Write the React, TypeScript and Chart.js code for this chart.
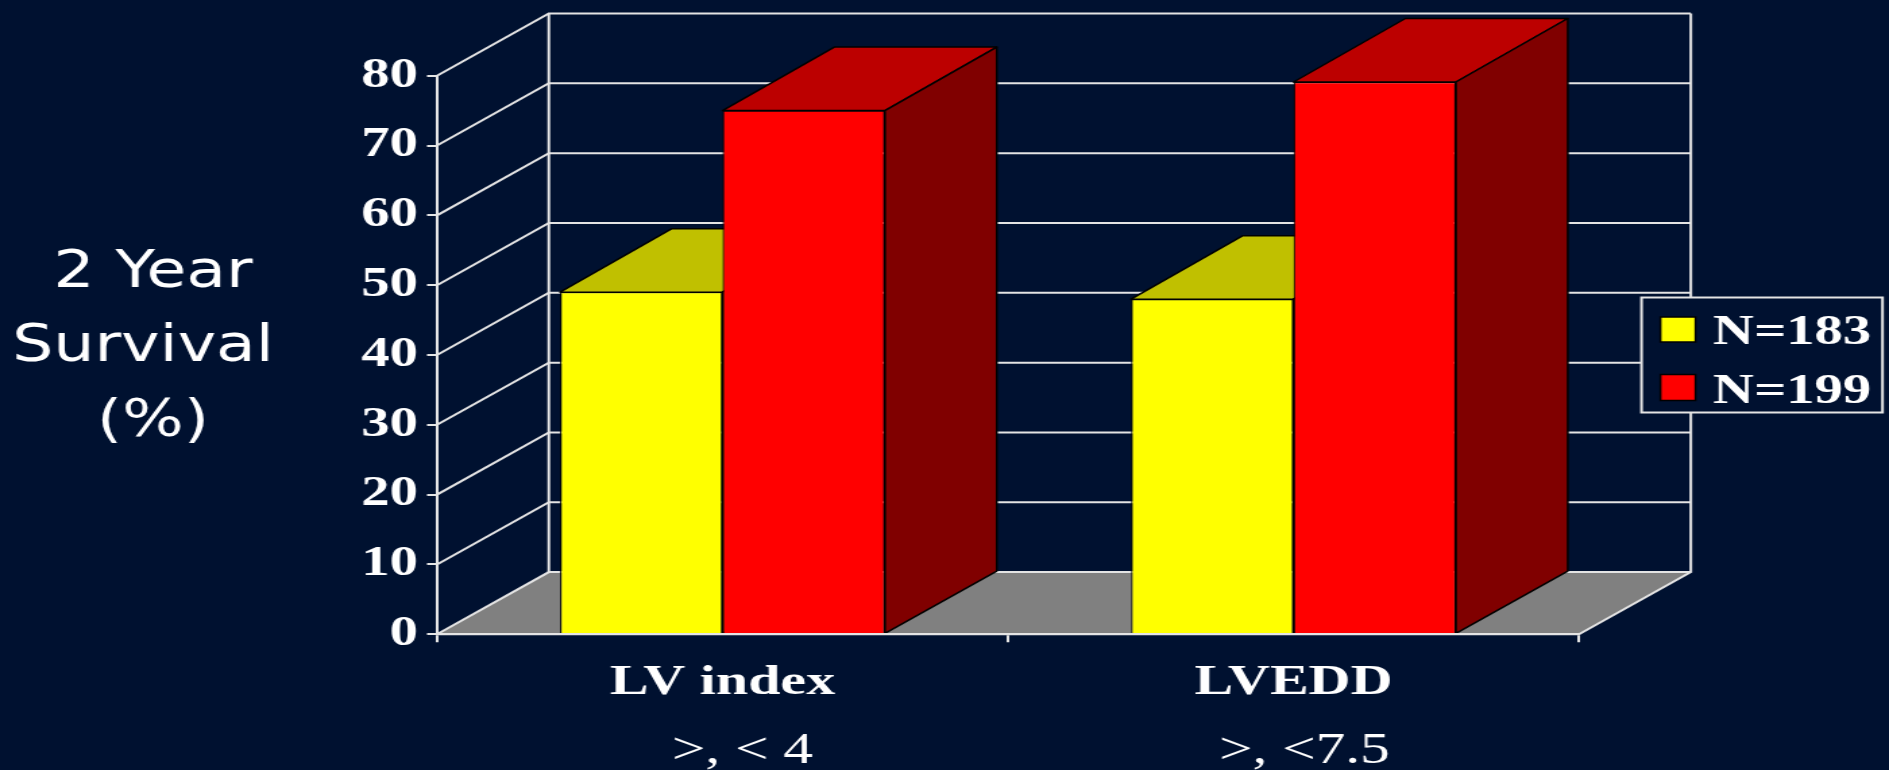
import React, { useEffect, useRef } from "react";
import { Chart, registerables } from "chart.js";

Chart.register(...registerables);

// ---- data ----
const categories = ["LV index", "LVEDD"];
const subLabels = [">, < 4", ">, <7.5"];
const seriesLabels = ["N=183", "N=199"];
const series183 = [49, 48];
const series199 = [75, 79.1];
const titleLines = ["2 Year", "Survival", "(%)"];

// ---- canvas is laid out narrower and widened with CSS, as the reference's text is stretched ----
const W = 1400;
const H = 770;
const SX = 1889 / W;
const px = (v: number) => v / SX;

const BG = "#001130";
const LINE = "#e4e4e4";
const DX = px(111.8);
const DY = 62.2;
const BAR_TOP_DY = 63.5;
const SERIF = "'Liberation Serif', serif";
const SUB_OFFSETS = [px(20), px(11)];
const TITLE_X = [px(153), px(143), px(153)];

const frontColors = ["#ffff00", "#ff0000"];
const topColors = ["#c0c000", "#bc0000"];
const sideColors = ["#808000", "#800000"];

const threeD = {
  id: "threeD",
  beforeDatasetsDraw(chart: any) {
    const { ctx, scales } = chart;
    const x = scales.x;
    const y = scales.y;
    const l = x.left;
    const r = x.right;
    const y0 = y.getPixelForValue(0);
    ctx.save();

    // floor
    ctx.fillStyle = "#808080";
    ctx.beginPath();
    ctx.moveTo(l, y0);
    ctx.lineTo(r, y0);
    ctx.lineTo(r + DX, y0 - DY);
    ctx.lineTo(l + DX, y0 - DY);
    ctx.closePath();
    ctx.fill();

    // walls
    ctx.strokeStyle = LINE;
    ctx.lineWidth = 2;
    for (const t of y.ticks) {
      const p = y.getPixelForValue(t.value);
      ctx.beginPath();
      ctx.moveTo(l, p);
      ctx.lineTo(l + DX, p - DY);
      ctx.lineTo(r + DX, p - DY);
      ctx.stroke();
    }
    const yTop = y.getPixelForValue(80);
    ctx.beginPath();
    ctx.moveTo(l + DX, yTop - DY);
    ctx.lineTo(l + DX, y0 - DY);
    ctx.moveTo(r + DX, yTop - DY);
    ctx.lineTo(r + DX, y0 - DY);
    ctx.lineTo(r, y0);
    ctx.stroke();

    // bar tops and sides; the fronts are the library's own bars
    ctx.strokeStyle = "#000000";
    ctx.lineWidth = 1.5;
    ctx.lineJoin = "round";
    chart.data.datasets.forEach((_: any, di: number) => {
      chart.getDatasetMeta(di).data.forEach((bar: any) => {
        const { x: cx, y: top, base, width } = bar.getProps(["x", "y", "base", "width"]);
        const a = cx - width / 2;
        const b = cx + width / 2;
        ctx.fillStyle = topColors[di];
        ctx.beginPath();
        ctx.moveTo(a, top);
        ctx.lineTo(a + DX, top - BAR_TOP_DY);
        ctx.lineTo(b + DX, top - BAR_TOP_DY);
        ctx.lineTo(b, top);
        ctx.closePath();
        ctx.fill();
        ctx.stroke();
        ctx.fillStyle = sideColors[di];
        ctx.beginPath();
        ctx.moveTo(b, top);
        ctx.lineTo(b + DX, top - BAR_TOP_DY);
        ctx.lineTo(b + DX, base - DY);
        ctx.lineTo(b, base);
        ctx.closePath();
        ctx.fill();
        ctx.stroke();
      });
    });
    ctx.restore();
  },
  afterDraw(chart: any) {
    const { ctx, scales } = chart;
    ctx.save();

    // second line of the category labels
    ctx.fillStyle = "#ffffff";
    ctx.font = `44px ${SERIF}`;
    ctx.textAlign = "center";
    ctx.textBaseline = "alphabetic";
    subLabels.forEach((s, i) => {
      ctx.fillText(s, scales.x.getPixelForTick(i) + SUB_OFFSETS[i], 763);
    });

    // axis title
    ctx.font = "52px 'DejaVu Sans', sans-serif";
    const baselines = [286.7, 360.7, 436];
    titleLines.forEach((s, i) => {
      ctx.save();
      ctx.translate(TITLE_X[i], baselines[i]);
      ctx.scale(0.925, 1);
      ctx.fillText(s, 0, 0);
      ctx.restore();
    });

    // legend
    const bx = px(1641.5);
    const bw = px(1882.5) - bx;
    ctx.fillStyle = BG;
    ctx.fillRect(bx, 297.5, bw, 115);
    ctx.strokeStyle = LINE;
    ctx.lineWidth = 2;
    ctx.strokeRect(bx, 297.5, bw, 115);
    const swatchTop = [317, 374.5];
    const swatchH = [25, 26];
    const textBase = [344, 403];
    chart.data.datasets.forEach((d: any, i: number) => {
      ctx.fillStyle = d.backgroundColor;
      ctx.strokeStyle = "#000000";
      ctx.lineWidth = 1.5;
      ctx.fillRect(px(1660.5), swatchTop[i], px(35), swatchH[i]);
      ctx.strokeRect(px(1660.5), swatchTop[i], px(35), swatchH[i]);
      ctx.fillStyle = "#ffffff";
      ctx.font = `bold 42px ${SERIF}`;
      ctx.textAlign = "left";
      ctx.fillText(d.label, px(1713), textBase[i]);
    });
    ctx.restore();
  },
};

export default function App() {
  const ref = useRef<HTMLCanvasElement | null>(null);
  useEffect(() => {
    document.body.style.margin = "0";
    document.body.style.background = BG;
    const chart = new Chart(ref.current as HTMLCanvasElement, {
      type: "bar",
      data: {
        labels: categories,
        datasets: [
          { label: seriesLabels[0], data: series183, backgroundColor: frontColors[0], borderColor: "#000000", borderWidth: 1.2 },
          { label: seriesLabels[1], data: series199, backgroundColor: frontColors[1], borderColor: "#000000", borderWidth: 1.2 },
        ],
      },
      options: {
        animation: false,
        responsive: false,
        devicePixelRatio: 1,
        layout: { padding: { left: 0, top: 75.7, right: W - px(1579), bottom: 0 } },
        datasets: { bar: { categoryPercentage: 0.569, barPercentage: 1 } },
        plugins: { legend: { display: false }, tooltip: { enabled: false }, title: { display: false } },
        scales: {
          x: {
            type: "category",
            afterFit: (s: any) => { s.height = H - 634.3; },
            grid: { drawOnChartArea: false, drawTicks: true, tickLength: 8, color: LINE, lineWidth: 2, z: 1 },
            border: { display: true, color: LINE, width: 2.2, z: 1 },
            ticks: {
              color: "#ffffff",
              font: { family: SERIF, size: 43, weight: "bold" },
              padding: 15,
              maxRotation: 0,
              autoSkip: false,
            },
          },
          y: {
            type: "linear",
            min: 0,
            max: 80,
            afterFit: (s: any) => { s.width = px(437); },
            grid: { drawOnChartArea: false, drawTicks: true, tickLength: px(10), color: LINE, lineWidth: 2, z: 1 },
            border: { display: true, color: LINE, width: 2, z: 1 },
            ticks: {
              stepSize: 10,
              color: "#ffffff",
              font: { family: SERIF, size: 42, weight: "bold" },
              padding: px(9),
            },
          },
        },
      } as any,
      plugins: [threeD],
    });
    return () => chart.destroy();
  }, []);
  return (
    <div style={{ position: "fixed", left: 0, top: 0, width: 1889, height: 770, background: BG, overflow: "hidden" }}>
      <canvas
        ref={ref}
        width={W}
        height={H}
        style={{ position: "absolute", left: 0, top: 0, transformOrigin: "0 0", transform: `scaleX(${SX})` }}
      />
    </div>
  );
}
